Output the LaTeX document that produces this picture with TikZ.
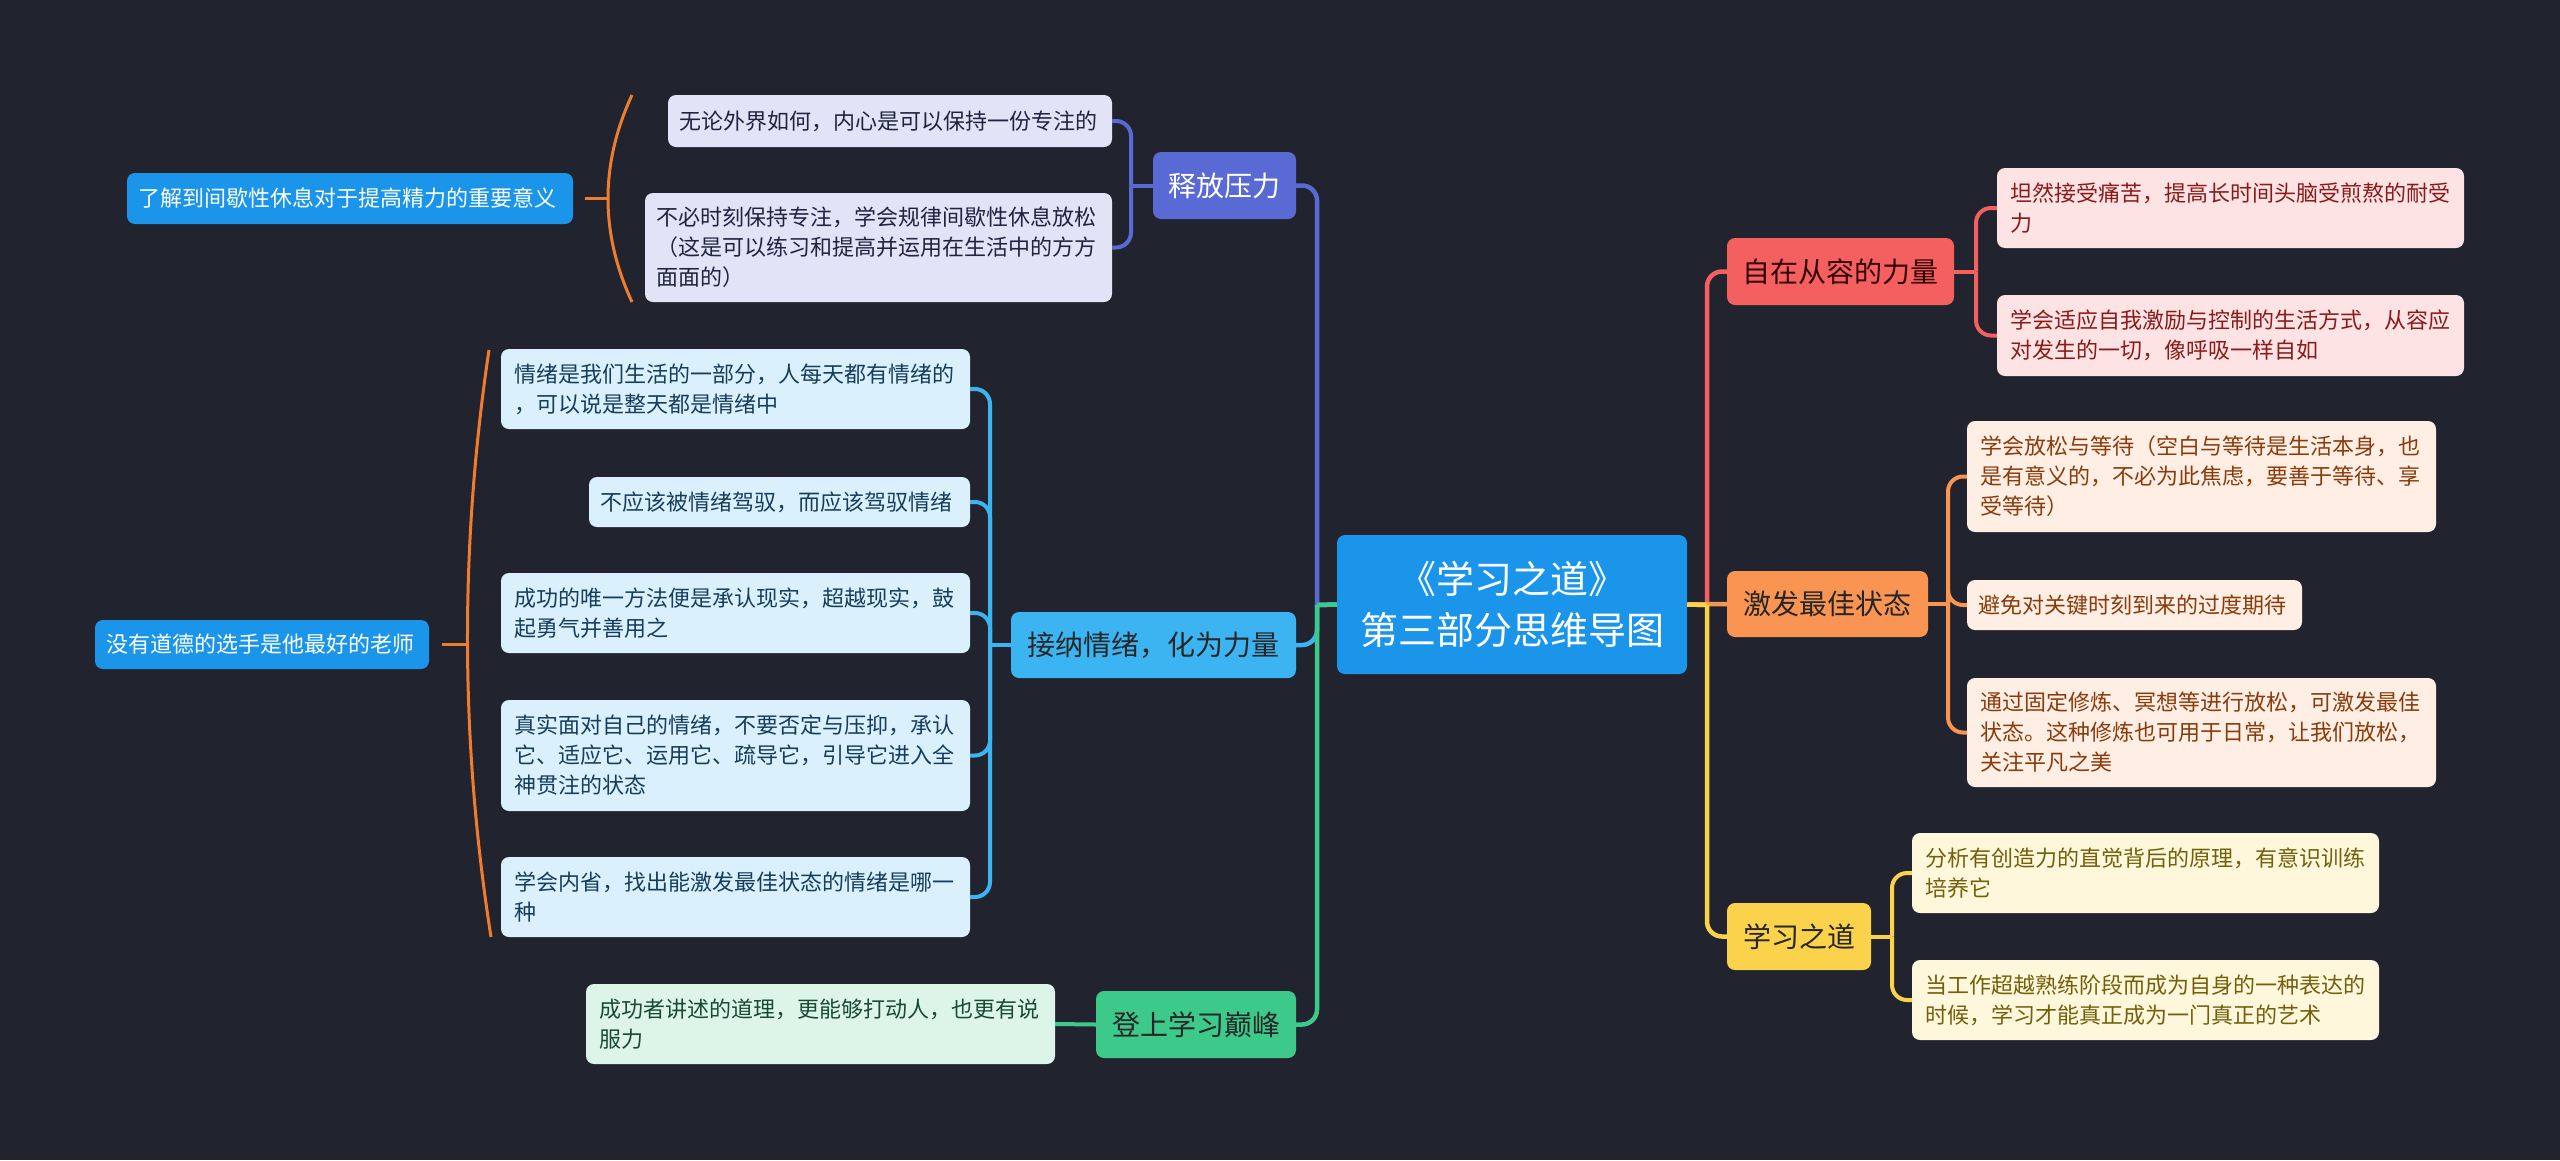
\documentclass[tikz,border=0pt]{standalone}
\usepackage{fontspec}
\setmainfont{Noto Sans CJK SC}
\definecolor{bg}{HTML}{21242E}
\definecolor{cblue}{HTML}{1A95EA}
\definecolor{cviolet}{HTML}{5A6AD4}
\definecolor{fviolet}{HTML}{E1E4F7}
\definecolor{tviolet}{HTML}{1F2440}
\definecolor{clblue}{HTML}{3DB4F2}
\definecolor{flblue}{HTML}{DAF1FD}
\definecolor{tlblue}{HTML}{173D5C}
\definecolor{cgreen}{HTML}{3CC98A}
\definecolor{fgreen}{HTML}{DDF5E9}
\definecolor{tgreen}{HTML}{1A4A32}
\definecolor{cred}{HTML}{F45F5F}
\definecolor{fred}{HTML}{FDE3E3}
\definecolor{tred}{HTML}{8B1A1A}
\definecolor{corange}{HTML}{FA9452}
\definecolor{forange}{HTML}{FEEEE3}
\definecolor{torange}{HTML}{8A3B0C}
\definecolor{cyellow}{HTML}{FAD24B}
\definecolor{fyellow}{HTML}{FEF7DB}
\definecolor{tyellow}{HTML}{73600C}
\definecolor{cbrk}{HTML}{F07D2E}
\newcommand\mnode[8]{%
  \pgfmathsetmacro\cx{(#2+#4)/2}\pgfmathsetmacro\cy{(#3+#5)/2}%
  \pgfmathsetmacro\ww{#4-#2}\pgfmathsetmacro\hh{#5-#3}\pgfmathsetmacro\tw{#4-#2-#7}%
  \node[#6, minimum width=\ww pt, minimum height=\hh pt, text width=\tw pt] (#1) at (\cx,\cy) {#8};}
\tikzset{
  box/.style={rounded corners=8pt, inner ysep=0pt, inner xsep=0pt, anchor=center},
  leaf/.style={box, align=left, font=\fontsize{22}{30}\selectfont},
  branch/.style={box, align=center, font=\fontsize{28}{34}\selectfont},
  mainline/.style={line width=4.5pt},
  subline/.style={line width=4pt},
  rc/.style={rounded corners=15pt},
  brk/.style={draw=cbrk, line width=3pt},
}
\begin{document}
\begin{tikzpicture}[x=1pt,y=-1pt]
\fill[bg] (0,0) rectangle (2560,1160);
\useasboundingbox (0,0) rectangle (2560,1160);

% centre
\mnode{c}{1337}{535}{1687}{674}{box, fill=cblue, text=white, align=center, font=\fontsize{38}{51}\selectfont}{10}{《学习之道》\\第三部分思维导图}

% left branches
\mnode{l1}{1153}{152}{1296}{219}{branch, fill=cviolet, text=white}{6}{释放压力}
\mnode{l2}{1011}{612}{1296}{678}{branch, fill=clblue, text=black!85}{6}{接纳情绪，化为力量}
\mnode{l3}{1096}{991}{1296}{1058}{branch, fill=cgreen, text=black!85}{6}{登上学习巅峰}

% right branches
\mnode{r1}{1727}{238}{1954}{305}{branch, fill=cred, text=black!80!red}{6}{自在从容的力量}
\mnode{r2}{1727}{571}{1928}{637}{branch, fill=corange, text=black!85}{6}{激发最佳状态}
\mnode{r3}{1727}{903}{1871}{970}{branch, fill=cyellow, text=black!85}{6}{学习之道}

% leaves of l1
\mnode{l1a}{668}{95}{1112}{147}{leaf, fill=fviolet, text=tviolet}{22}{无论外界如何，内心是可以保持一份专注的}
\mnode{l1b}{645}{193}{1112}{302}{leaf, fill=fviolet, text=tviolet}{22}{不必时刻保持专注，学会规律间歇性休息放松\\（这是可以练习和提高并运用在生活中的方方\\面面的）}
\mnode{s1}{127}{173}{573}{224}{leaf, fill=cblue, text=white}{22}{了解到间歇性休息对于提高精力的重要意义}

% leaves of l2
\mnode{l2a}{501}{349}{970}{429}{leaf, fill=flblue, text=tlblue}{26}{情绪是我们生活的一部分，人每天都有情绪的\\，可以说是整天都是情绪中}
\mnode{l2b}{589}{477}{970}{527}{leaf, fill=flblue, text=tlblue}{22}{不应该被情绪驾驭，而应该驾驭情绪}
\mnode{l2c}{501}{573}{970}{653}{leaf, fill=flblue, text=tlblue}{26}{成功的唯一方法便是承认现实，超越现实，鼓\\起勇气并善用之}
\mnode{l2d}{501}{700}{970}{811}{leaf, fill=flblue, text=tlblue}{26}{真实面对自己的情绪，不要否定与压抑，承认\\它、适应它、运用它、疏导它，引导它进入全\\神贯注的状态}
\mnode{l2e}{501}{857}{970}{937}{leaf, fill=flblue, text=tlblue}{26}{学会内省，找出能激发最佳状态的情绪是哪一\\种}
\mnode{s2}{95}{620}{429}{669}{leaf, fill=cblue, text=white}{22}{没有道德的选手是他最好的老师}

% leaf of l3
\mnode{l3a}{586}{984}{1055}{1064}{leaf, fill=fgreen, text=tgreen}{26}{成功者讲述的道理，更能够打动人，也更有说\\服力}

% leaves of r1
\mnode{r1a}{1997}{168}{2464}{248}{leaf, fill=fred, text=tred}{26}{坦然接受痛苦，提高长时间头脑受煎熬的耐受\\力}
\mnode{r1b}{1997}{295}{2464}{376}{leaf, fill=fred, text=tred}{26}{学会适应自我激励与控制的生活方式，从容应\\对发生的一切，像呼吸一样自如}

% leaves of r2
\mnode{r2a}{1967}{421}{2436}{532}{leaf, fill=forange, text=torange}{26}{学会放松与等待（空白与等待是生活本身，也\\是有意义的，不必为此焦虑，要善于等待、享\\受等待）}
\mnode{r2b}{1967}{580}{2302}{630}{leaf, fill=forange, text=torange}{22}{避免对关键时刻到来的过度期待}
\mnode{r2c}{1967}{678}{2436}{787}{leaf, fill=forange, text=torange}{26}{通过固定修炼、冥想等进行放松，可激发最佳\\状态。这种修炼也可用于日常，让我们放松，\\关注平凡之美}

% leaves of r3
\mnode{r3a}{1912}{833}{2379}{913}{leaf, fill=fyellow, text=tyellow}{26}{分析有创造力的直觉背后的原理，有意识训练\\培养它}
\mnode{r3b}{1912}{960}{2379}{1040}{leaf, fill=fyellow, text=tyellow}{26}{当工作超越熟练阶段而成为自身的一种表达的\\时候，学习才能真正成为一门真正的艺术}

% junction coordinates
\coordinate (tl) at (1317,605);
\coordinate (tr) at (1707,605);
\coordinate (j1) at (1131,185.5);
\coordinate (j2) at (990,645);
\coordinate (k1) at (1976,271.5);
\coordinate (k2) at (1948,604);
\coordinate (k3) at (1892,936.5);

% main connectors left
\draw[mainline, cviolet] (c.west) -- (tl);
\draw[mainline, cviolet, rc] (tl) |- (l1.east);
\draw[mainline, clblue] (c.west) -- (tl);
\draw[mainline, clblue, rc] (tl) |- (l2.east);
\draw[mainline, cgreen] (c.west) -- (tl);
\draw[mainline, cgreen, rc] (tl) |- (l3.east);
% main connectors right
\draw[mainline, cred] (c.east) -- (tr);
\draw[mainline, cred, rc] (tr) |- (r1.west);
\draw[mainline, corange] (c.east) -- (r2.west);
\draw[mainline, cyellow] (c.east) -- (tr);
\draw[mainline, cyellow, rc] (tr) |- (r3.west);

% sub connectors
\draw[subline, cviolet] (l1.west) -- (j1);
\draw[subline, cviolet, rc] (j1) |- (l1a.east);
\draw[subline, cviolet, rc] (j1) |- (l1b.east);

\draw[subline, clblue] (l2.west) -- (j2);
\foreach \n in {l2a,l2b,l2c,l2d,l2e}{\draw[subline, clblue, rc] (j2) |- (\n.east);}

\draw[subline, cgreen] (l3.west) -- (l3a.east);

\draw[subline, cred] (r1.east) -- (k1);
\draw[subline, cred, rc] (k1) |- (r1a.west);
\draw[subline, cred, rc] (k1) |- (r1b.west);

\draw[subline, corange] (r2.east) -- (k2);
\foreach \n in {r2a,r2b,r2c}{\draw[subline, corange, rc] (k2) |- (\n.west);}

\draw[subline, cyellow] (r3.east) -- (k3);
\draw[subline, cyellow, rc] (k3) |- (r3a.west);
\draw[subline, cyellow, rc] (k3) |- (r3b.west);

% summary brackets
\coordinate (b1t) at (632,95);
\coordinate (b1b) at (632,302);
\coordinate (b1m) at (608,198.5);
\draw[brk] (b1t) .. controls (600,164) and (600,233) .. (b1b);
\draw[brk] ([xshift=12pt]s1.east) -- (b1m);

\coordinate (b2t) at (489,350);
\coordinate (b2b) at (491,937);
\coordinate (b2m) at (467.5,644.5);
\draw[brk] (b2t) .. controls (459.7,546) and (460.3,741.7) .. (b2b);
\draw[brk] ([xshift=13pt]s2.east) -- (b2m);
\end{tikzpicture}
\end{document}
